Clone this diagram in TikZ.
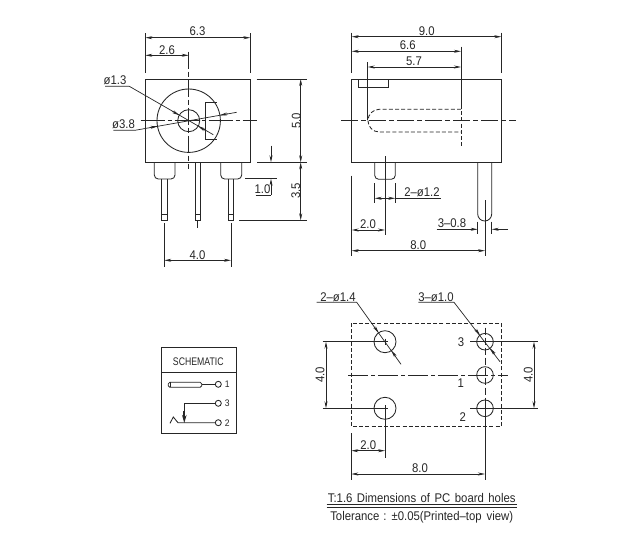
\documentclass[tikz,border=0pt]{standalone}
\usepackage{fontspec}
\setmainfont[FakeStretch=0.9]{Liberation Sans}
\usetikzlibrary{arrows.meta}
\tikzset{
  x=1pt,y=-1pt,
  base/.style={line width=0.85pt,draw=black!85},
  part/.style={base},
  thin line/.style={base,line width=0.7pt},
  hidden/.style={base,dash pattern=on 4pt off 2.2pt},
  center/.style={base,dash pattern=on 17pt off 3pt on 5pt off 3pt},
  dim/.style={thin line,{Stealth[length=7pt,width=3pt]}-{Stealth[length=7pt,width=3pt]}},
  tip/.style={thin line,-{Stealth[length=7pt,width=3pt]}},
  lbl/.style={font=\fontsize{12.6}{12}\selectfont,inner sep=0pt,text=black!85},
  vlbl/.style={lbl,rotate=90},
  sch/.style={font=\fontsize{9.5}{9}\selectfont,inner sep=0pt,text=black!85}
}
\begin{document}
\begin{tikzpicture}
\useasboundingbox[fill=white] (0,0) rectangle (640,552);
% ---------- front view
\draw[part] (145.3,79) rectangle (250.3,162.3);
\draw[part] (188.7,120.7) circle (31.7);
\draw[part] (188.7,120.7) circle (11);
\draw[part] (216.8,102.7) -- (205.7,102.7) -- (205.7,139) -- (216.8,139);
\draw[part] (154.3,162.3) -- (154.3,175) arc (180:270:4pt) -- (171,179) arc (270:360:4pt) -- (175,162.3);
\draw[part] (220.7,162.3) -- (220.7,175) arc (180:270:4pt) -- (237.7,179) arc (270:360:4pt) -- (241.7,162.3);
\draw[part] (161.7,179) -- (161.7,220) -- (167.7,220) -- (167.7,179);
\draw[part] (228.7,179) -- (228.7,220) -- (233.7,220) -- (233.7,179);
\draw[part] (195,162.3) -- (195,220) -- (200.7,220) -- (200.7,162.3);
\draw[thin line] (161.7,214) -- (167.7,214) (228.7,214) -- (233.7,214) (195,214) -- (200.7,214);
\draw[thin line] (197.8,220) -- (197.8,228);
\draw[center] (188.7,51.7) -- (188.7,169);
\draw[hidden,dash pattern=on 24pt off 3pt on 4pt off 3pt] (140.7,120.7) -- (256.7,120.7);
% dims front
\draw[thin line] (145.3,33.3) -- (145.3,73.3) (250.3,33.3) -- (250.3,73.3);
\draw[dim] (145.3,37.7) -- (250.3,37.7);
\node[lbl] (t63) at (197.5,31) {6.3};
\draw[dim] (145.3,55.3) -- (188.7,55.3);
\node[lbl] (t26) at (167,50) {2.6};
\node[lbl] (t13) at (115,80) {ø1.3};
\draw[thin line] (105,86.3) -- (129.3,86.3) -- (213.3,134.7);
\draw[tip] (172.3,111.2) -- (179.2,115.2);
\draw[tip] (205.1,130.2) -- (198.2,126.2);
\node[lbl] (t38) at (123.5,124.5) {ø3.8};
\draw[thin line] (113.3,130.3) -- (135,130.3) -- (236.7,112.3);
\draw[tip] (149.6,127.6) -- (157.5,126.2);
\draw[tip] (227.8,113.8) -- (219.9,115.2);
\draw[thin line] (256.7,79) -- (306.7,79) (257.3,162.3) -- (306.7,162.3) (239,220.3) -- (306.7,220.3);
\draw[dim] (300.7,79) -- (300.7,162.3);
\draw[dim] (300.7,162.3) -- (300.7,220.3);
\node[vlbl] (t50) at (296.2,120.7) {5.0};
\node[vlbl] (t35) at (295.7,191) {3.5};
\draw[thin line] (245,178.7) -- (276.7,178.7);
\draw[tip] (271,145.7) -- (271,162.3);
\draw[tip] (271,195) -- (271,178.7);
\draw[thin line] (255.7,195) -- (271,195);
\node[lbl] (t10) at (262.5,189.5) {1.0};
\draw[thin line] (164.3,223) -- (164.3,266.7) (231,223) -- (231,266.7);
\draw[dim] (164.3,260.3) -- (231,260.3);
\node[lbl] (t40a) at (197.5,255) {4.0};
% ---------- side view
\draw[part] (351.7,79) rectangle (501.3,162.3);
\draw[part] (358.3,79) rectangle (388.7,87.7);
\draw[hidden] (461,109.3) -- (379.3,109.3) arc (90:270:11.35pt) -- (461,132);
\draw[hidden] (461,105) -- (461,148.3);
\draw[center] (341,120.7) -- (515.7,120.7);
\draw[part] (374.7,162.3) -- (374.7,175.3) arc (180:270:4pt) -- (391.3,179.3) arc (270:360:4pt) -- (395.3,162.3);
\draw[thin line] (385,156) -- (385,235);
\draw[part] (477.7,162.3) -- (477.7,214) arc (180:360:7pt) -- (491.7,162.3);
\draw[thin line] (485,200) -- (485,256);
\draw[thin line] (351.7,32.7) -- (351.7,73.3) (501.3,32.7) -- (501.3,73.3);
\draw[dim] (351.7,36.7) -- (501.3,36.7);
\node[lbl] (t90) at (426.7,31.5) {9.0};
\draw[thin line] (461,46.7) -- (461,105);
\draw[dim] (351.7,51.3) -- (461,51.3);
\node[lbl] (t66) at (407.7,45.5) {6.6};
\draw[thin line] (367.7,62.3) -- (367.7,120);
\draw[dim] (367.7,67) -- (461,67);
\node[lbl] (t57) at (414,61.2) {5.7};
\draw[thin line] (374.7,183.3) -- (374.7,202.7) (395.3,183.3) -- (395.3,202.7);
\draw[dim] (374.7,198.3) -- (395.3,198.3);
\draw[thin line] (395.3,198.3) -- (440.7,198.3);
\node[lbl] (t212) at (422,192.5) {2–ø1.2};
\draw[thin line] (351.7,175.7) -- (351.7,256);
\draw[dim] (351.7,230) -- (385,230);
\node[lbl] (t20a) at (368,224) {2.0};
\draw[dim] (351.7,250.7) -- (485,250.7);
\node[lbl] (t80a) at (418.3,245.2) {8.0};
\draw[thin line] (477.7,221.7) -- (477.7,234) (491.7,221.7) -- (491.7,234);
\draw[tip] (436.7,229.3) -- (477.7,229.3);
\draw[tip] (508,229.3) -- (491.7,229.3);
\node[lbl] (t308) at (452,223.2) {3–0.8};
% ---------- hole pattern
\draw[hidden] (351.3,323) rectangle (501.3,426.7);
\draw[part] (385,341.7) circle (11) (385,408.3) circle (11);
\draw[part] (485,341.7) circle (8.3) (485,375) circle (8.3) (485,408.3) circle (8.3);
\draw[center,dash pattern=on 20pt off 3pt on 4pt off 3pt] (348.3,375) -- (508.3,375);
\draw[hidden,dash pattern=on 7pt off 3pt] (485,327.7) -- (485,408.3);
\draw[thin line] (322.7,341.7) -- (388,341.7) (322.7,408.3) -- (388,408.3) (385,338.7) -- (385,344.7) (385,405) -- (385,457.7);
\draw[thin line] (470,341.7) -- (538.3,341.7) (470,408.3) -- (538.3,408.3) (485,408.3) -- (485,480) (485,400) -- (485,416);
\draw[dim] (326,341.7) -- (326,408.3);
\node[vlbl] (t40b) at (320,375) {4.0};
\draw[dim] (534,341.7) -- (534,408.3);
\node[vlbl] (t40c) at (528.3,375) {4.0};
\node[lbl] (n3) at (461,341.7) {3};
\node[lbl] (n1) at (460.7,382.7) {1};
\node[lbl] (n2) at (462.7,417.3) {2};
\node[lbl] (t214) at (338,297) {2–ø1.4};
\draw[thin line] (316.7,302.3) -- (356.7,302.3) -- (401,364.3);
\draw[tip] (374.5,327) -- (378.6,332.75);
\draw[tip] (395.5,356.35) -- (391.4,350.6);
\node[lbl] (t310) at (436,297) {3–ø1.0};
\draw[thin line] (418.3,302.3) -- (454,302.3) -- (500,361.7);
\draw[tip] (475.6,329.5) -- (479.9,335.1);
\draw[tip] (494.4,353.9) -- (490.1,348.3);
\draw[thin line] (351.3,433.3) -- (351.3,480);
\draw[dim] (351.3,450.7) -- (385,450.7);
\node[lbl] (t20b) at (368.3,445.2) {2.0};
\draw[dim] (351.3,474) -- (485,474);
\node[lbl] (t80b) at (420,468.2) {8.0};
\node[lbl] (title) at (421.7,498) {T:1.6\hspace{4.5pt}Dimensions\hspace{4.5pt}of\hspace{4.5pt}PC\hspace{4.5pt}board\hspace{4.5pt}holes};
\draw[thin line] (326.7,504.3) -- (516.7,504.3) (326.7,507.7) -- (516.7,507.7);
\node[lbl] (tol) at (421.7,517.5) {Tolerance\hspace{4pt}:\hspace{5pt}±0.05(Printed–top\hspace{5pt}view)};
% ---------- schematic
\draw[part] (161.7,347.3) rectangle (236,433.3);
\draw[part] (161.7,372.7) -- (236,372.7);
\node[sch,font=\fontsize{11}{10}\selectfont] (sc) at (198.3,361.7) {\scalebox{0.88}[1]{SCHEMATIC}};
\draw[part,rounded corners=1.5pt] (168.3,382.3) rectangle (201.7,387.3);
\draw[part] (170.5,382.3) -- (170.5,387.3);
\draw[part] (201.7,384.3) -- (215.3,384.3);
\draw[part] (218.3,384.3) circle (3) (218.3,403.3) circle (3) (218.3,422.7) circle (3);
\draw[part] (215.3,403.3) -- (184.3,403.3) -- (184.3,412);
\draw[line width=1.8pt,-{Stealth[length=8pt,width=4.5pt]},draw=black!85] (184.3,411) -- (184.3,423);
\draw[part] (215.3,422.7) -- (178,422.7) -- (173.3,417) -- (170,423.3);
\node[sch] (p1) at (227.3,384.5) {1};
\node[sch] (p3) at (227.3,403.5) {3};
\node[sch] (p2) at (227.3,422.7) {2};
\end{tikzpicture}
\end{document}
